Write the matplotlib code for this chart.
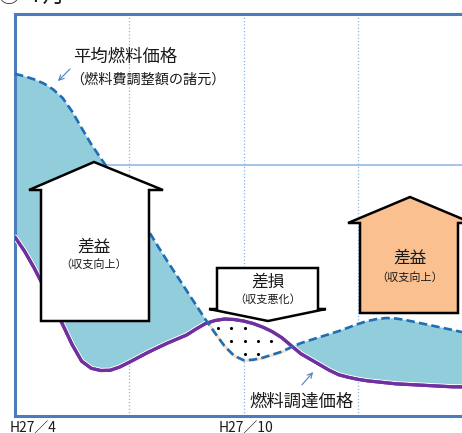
import numpy as np
import matplotlib
matplotlib.use("Agg")
import matplotlib.pyplot as plt
from matplotlib.patches import Polygon
from matplotlib.path import Path
import matplotlib.patheffects as pe

plt.rcParams['font.family'] = ['Noto Sans CJK JP', 'DejaVu Sans']

# months after H27/4
months = [0, 0.25, 0.5, 0.75, 1.0, 1.25, 1.5, 1.75, 2.0, 2.25, 2.5, 2.75,
          3.0, 3.25, 3.5, 3.75, 4.0, 4.25, 4.5, 4.75, 5.0, 5.25, 5.5, 5.75,
          6.0, 6.25, 6.5, 6.75, 7.0, 7.25, 7.5, 7.75, 8.0, 8.25, 8.5, 8.75,
          9.0, 9.25, 9.5, 9.75, 10.0, 10.25, 10.5, 10.75, 11.0, 11.25, 11.5,
          11.73]
# 平均燃料価格 (dashed)
avg_price = [68.1, 67.6, 67.0, 66.2, 65.0, 63.3, 60.6, 57.3, 54.1, 51.3, 48.6,
             45.9, 43.0, 40.0, 36.9, 33.8, 30.8, 27.9, 25.0, 22.1, 19.2, 16.5,
             13.9, 12.0, 11.1, 11.2, 11.6, 12.2, 12.8, 13.7, 14.5, 15.1, 15.7,
             16.3, 16.9, 17.6, 18.3, 18.9, 19.3, 19.5, 19.4, 19.1, 18.7, 18.3,
             17.9, 17.5, 17.1, 16.7]
# 燃料調達価格 (purple)
buy_price = [35.6, 32.8, 29.5, 25.8, 22.0, 18.2, 14.2, 10.9, 9.5, 9.05, 9.1,
             9.75, 10.7, 11.7, 12.7, 13.6, 14.5, 15.3, 16.1, 17.3, 18.4, 19.0,
             19.3, 19.2, 18.9, 18.4, 17.7, 16.8, 15.6, 14.0, 12.4, 11.3, 10.2,
             9.1, 8.2, 7.7, 7.3, 7.0, 6.8, 6.6, 6.4, 6.3, 6.2, 6.1, 6.0, 5.9,
             5.8, 5.8]
tick_pos = [0, 6]
tick_labels = ['H27／4', 'H27／10']

W, H = 462, 433
X0, Y0, Y1 = 15, 416, 14       # frame in pixels
PX_MONTH, PX_UNIT = 38.1, 5.025


def px(x, y):
    return ((x - X0) / PX_MONTH, (Y0 - y) / PX_UNIT)


fig = plt.figure(figsize=(W / 100, H / 100), dpi=100)
ax = fig.add_axes([X0 / W, (H - Y0) / H, (W - X0) / W, (Y0 - Y1) / H])
ax.set_xlim(0, (W - X0) / PX_MONTH)
ax.set_ylim(0, (Y0 - Y1) / PX_UNIT)
ax.set_xticks([])
ax.set_yticks([])
frame = '#4A7EBB'
for s in ['left', 'top', 'bottom']:
    ax.spines[s].set_color(frame)
    ax.spines[s].set_linewidth(2.2)
ax.spines['right'].set_visible(False)

# grid
ax.axhline(50, color='#8DB3E2', lw=1.1, zorder=0)
for m in [3, 6, 9]:
    ax.axvline(m, color='#8DB3E2', lw=0.9, ls=':', zorder=0)

x = np.array(months)
a = np.array(avg_price)
b = np.array(buy_price)
ax.fill_between(x, a, b, where=a >= b, interpolate=True,
                facecolor='#92CDDC', lw=0, zorder=1)
loss = ax.fill_between(x, a, b, where=b > a, interpolate=True,
                       facecolor='white', edgecolor='#FBDCC6', lw=2.0, zorder=1)

# dot pattern inside loss region
tr = ax.transData
pdisp = Path(tr.transform(loss.get_paths()[0].vertices))
gx = np.arange(218 - 13.3 * 6, 340, 13.3)
gy = np.arange(328 - 13 * 3, 380, 13)
offs = np.array([[0, 0], [4, 0], [-4, 0], [0, 4], [0, -4]])
pts = []
for yy in gy:
    for xx in gx:
        d = tr.transform([px(xx, yy)])[0]
        if pdisp.contains_points(d + offs).all():
            pts.append(px(xx, yy))
if pts:
    pts = np.array(pts)
    ax.scatter(pts[:, 0], pts[:, 1], s=5, color='black', zorder=2, lw=0)

ax.plot(x, b, color='#7030A0', lw=2.3, zorder=3, solid_capstyle='round',
        solid_joinstyle='round',
        path_effects=[pe.withStroke(linewidth=3.8, foreground='white'), pe.Normal()])
ax.plot(x, a, color='#1F6DB5', lw=1.9, ls=(0, (3.2, 1.6)), zorder=4)

# arrow shapes
up1 = [(94, 162), (163, 190), (149, 190), (149, 321), (41, 321), (41, 190), (29, 190)]
down = [(217, 268), (318, 268), (318, 309), (326, 309), (268, 321), (209, 309), (217, 309)]
up2 = [(410, 197), (472, 223), (458, 223), (458, 313), (360, 313), (360, 223), (348, 223)]
for shape, fc in [(up1, 'white'), (down, 'white'), (up2, '#FAC090')]:
    ax.add_patch(Polygon([px(*p) for p in shape], closed=True, facecolor=fc,
                         edgecolor='black', lw=1.8, zorder=5, clip_on=False,
                         joinstyle='miter'))


def label(x, y, s, size, ha='center'):
    ax.text(*px(x, y), s, fontsize=size, ha=ha, va='center', zorder=6,
            clip_on=False, color='#1a1a1a')


label(94, 247, '差益', 12)
label(94, 265, '（収支向上）', 8)
label(268, 282, '差損', 12)
label(268, 300, '（収支悪化）', 8)
label(410, 258, '差益', 12)
label(410, 278, '（収支向上）', 8)

label(73, 57, '平均燃料価格', 12.5, ha='left')
label(70, 80, '（燃料費調整額の諸元）', 10.2, ha='left')
label(249, 402, '燃料調達価格', 12.5, ha='left')

arrow_kw = dict(arrowstyle='->', color='#4F81BD', lw=0.8, mutation_scale=9)
ax.annotate('', xy=px(56, 83), xytext=px(72, 67), arrowprops=arrow_kw, zorder=6)
ax.annotate('', xy=px(315, 370), xytext=px(300, 387), arrowprops=arrow_kw, zorder=6)

# x tick labels
for m, t in zip(tick_pos, tick_labels):
    lx = 10 if m == 0 else 219
    ax.text(px(lx, 0)[0], px(0, 428)[1], t, fontsize=10, ha='left', va='center',
            clip_on=False, color='#1a1a1a')

fig.text(-2 / W, 1 - 7 / H, '①  7月', fontsize=16, ha='left', va='bottom',
         color='#1a1a1a')

fig.savefig('out.png', dpi=100)
